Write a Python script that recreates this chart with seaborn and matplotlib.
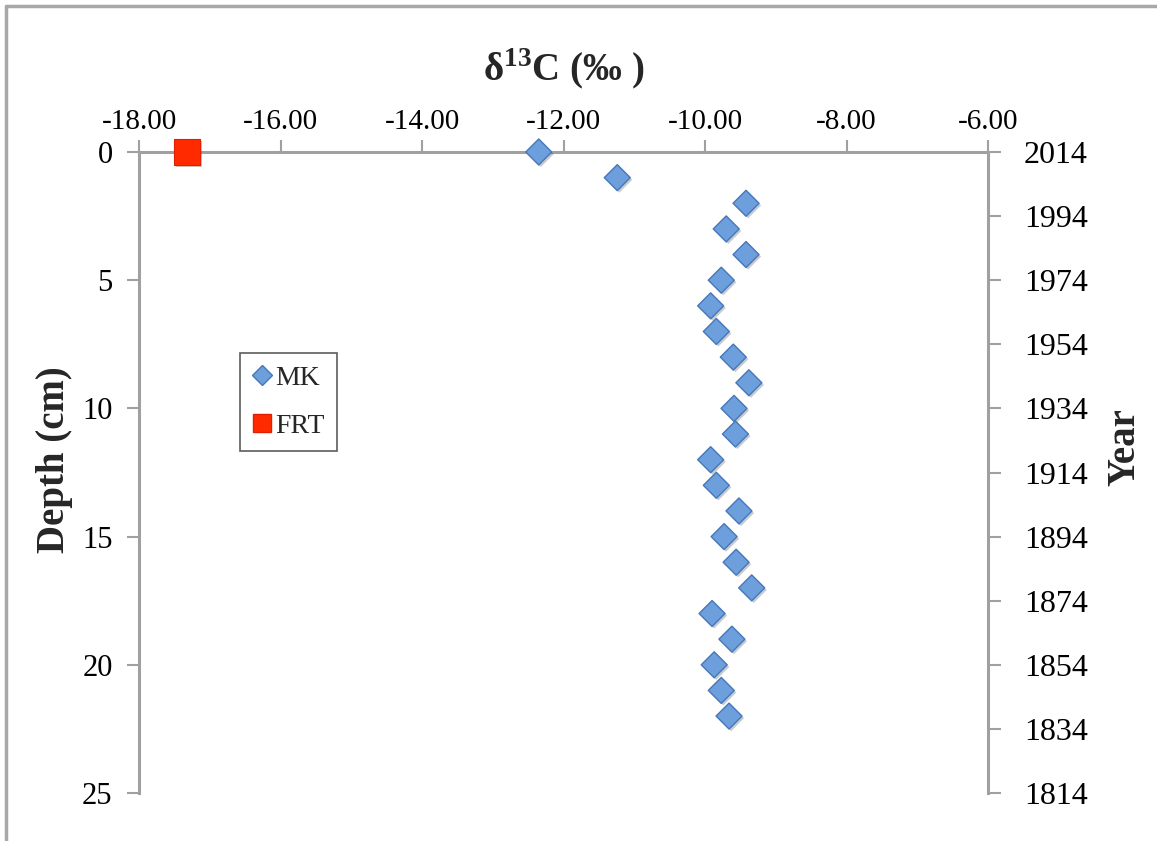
import numpy as np
import pandas as pd
import matplotlib
matplotlib.use("Agg")
import matplotlib.pyplot as plt
import matplotlib.patheffects as pe
from matplotlib.lines import Line2D
import seaborn as sns

# ---- data ----
mk_depth = [0, 1, 2, 3, 4, 5, 6, 7, 8, 9, 10, 11, 12, 13, 14, 15, 16, 17, 18, 19, 20, 21, 22]
mk_d13c = [-12.35, -11.24, -9.42, -9.70, -9.42, -9.77, -9.92, -9.84, -9.60, -9.38, -9.59,
           -9.57, -9.92, -9.84, -9.52, -9.73, -9.56, -9.34, -9.90, -9.62, -9.87, -9.77, -9.66]
frt_depth = [0]
frt_d13c = [-17.32]
x_ticks = [-18, -16, -14, -12, -10, -8, -6]
depth_ticks = [0, 5, 10, 15, 20, 25]
year_ticks = [2014, 1994, 1974, 1954, 1934, 1914, 1894, 1874, 1854, 1834, 1814]

df = pd.DataFrame({
    "depth": mk_depth + frt_depth,
    "d13c": mk_d13c + frt_d13c,
    "series": ["MK"] * len(mk_depth) + ["FRT"] * len(frt_depth),
})

sns.set_theme(style="white")
plt.rcParams["font.family"] = ["Liberation Serif", "DejaVu Serif"]
plt.rcParams["mathtext.fontset"] = "custom"
plt.rcParams["mathtext.bf"] = "Liberation Serif:bold"
plt.rcParams["mathtext.rm"] = "Liberation Serif"

W, H = 1157, 841
fig = plt.figure(figsize=(W / 100, H / 100), dpi=100)
fig.patch.set_facecolor("white")
left, right, top, bottom = 139, 988, 152, 793
ax = fig.add_axes([left / W, 1 - bottom / H, (right - left) / W, (bottom - top) / H])

gray = "#A0A0A0"
mk_face, mk_edge = "#6C9FDC", "#4677B8"
frt_face, frt_edge = "#FF2A00", "#E02000"

shadow = [pe.SimplePatchShadow(offset=(1.5, -1.5), alpha=0.25), pe.Normal()]

sns.scatterplot(data=df[df.series == "MK"], x="d13c", y="depth", marker="D", s=175,
                color=mk_face, edgecolor=mk_edge, linewidth=1.0, ax=ax, legend=False,
                zorder=3)
sns.scatterplot(data=df[df.series == "FRT"], x="d13c", y="depth", marker="s", s=340,
                color=frt_face, edgecolor=frt_edge, linewidth=0.8, ax=ax, legend=False,
                zorder=3)
for coll in ax.collections:
    coll.set_path_effects(shadow)
    coll.set_clip_on(False)

ax.set_xlim(-18, -6)
ax.set_ylim(25, 0)
ax.xaxis.tick_top()
ax.xaxis.set_label_position("top")
ax.set_xticks(x_ticks)
ax.set_xticklabels([f"{v:.2f}" for v in x_ticks])
ax.set_yticks(depth_ticks)
ax.set_yticklabels([str(v) for v in depth_ticks])

for side in ["bottom", "right"]:
    ax.spines[side].set_visible(False)
for side in ["top", "left"]:
    ax.spines[side].set_color(gray)
    ax.spines[side].set_linewidth(2.2)
ax.tick_params(axis="x", which="major", direction="out", length=9, width=1.5,
               color=gray, labelsize=21, pad=3, top=True, bottom=False,
               labeltop=True, labelbottom=False, labelcolor="black")
ax.tick_params(axis="y", which="major", direction="out", length=9, width=1.5,
               color=gray, labelsize=22, pad=10, labelcolor="black")

ax.set_xlabel("δ$^{\\mathbf{13}}$C (‰ )", fontsize=28, fontweight="bold", labelpad=20)
ax.set_ylabel("Depth (cm)", fontsize=28, fontweight="bold", va="center", ha="center")
ax.yaxis.set_label_coords((55 - left) / (right - left), 1 - (460 - top) / (bottom - top))

ax2 = ax.twinx()
ax2.set_ylim(1814, 2014)
ax2.set_yticks(year_ticks)
ax2.set_yticklabels([str(v) for v in year_ticks])
for side in ["top", "bottom", "left"]:
    ax2.spines[side].set_visible(False)
ax2.spines["right"].set_color(gray)
ax2.spines["right"].set_linewidth(2.2)
ax2.tick_params(axis="y", direction="out", length=9, width=1.5, color=gray,
                labelsize=23, pad=17, labelcolor="black")
ax2.set_ylabel("Year", fontsize=28, fontweight="bold", rotation=90, va="center", ha="center")
ax2.yaxis.set_label_coords(1 + (1125 - right) / (right - left), 1 - (447 - top) / (bottom - top))
ax2.grid(False)
ax.grid(False)

handles = [
    Line2D([], [], marker="D", linestyle="none", markersize=10.5,
           markerfacecolor=mk_face, markeredgecolor=mk_edge, label="MK"),
    Line2D([], [], marker="s", linestyle="none", markersize=13,
           markerfacecolor=frt_face, markeredgecolor=frt_edge, label="FRT"),
]
leg = ax.legend(handles=handles, loc="upper left",
                bbox_to_anchor=((240 - left) / (right - left), 1 - (353 - top) / (bottom - top)),
                frameon=True, fancybox=False, fontsize=20, handlelength=0.7,
                handletextpad=0.1, borderpad=0.45, labelspacing=0.8, borderaxespad=0)
leg.get_frame().set_edgecolor("#333333")
leg.get_frame().set_linewidth(1.2)

# outer frame of the figure
fig.add_artist(Line2D([6 / W, 6 / W], [0, 1 - 6 / H], transform=fig.transFigure,
                      color="#A8A8A8", linewidth=2.5))
fig.add_artist(Line2D([6 / W, 1], [1 - 6 / H, 1 - 6 / H], transform=fig.transFigure,
                      color="#A8A8A8", linewidth=2.5))

fig.savefig("out.png", dpi=100, facecolor="white")
